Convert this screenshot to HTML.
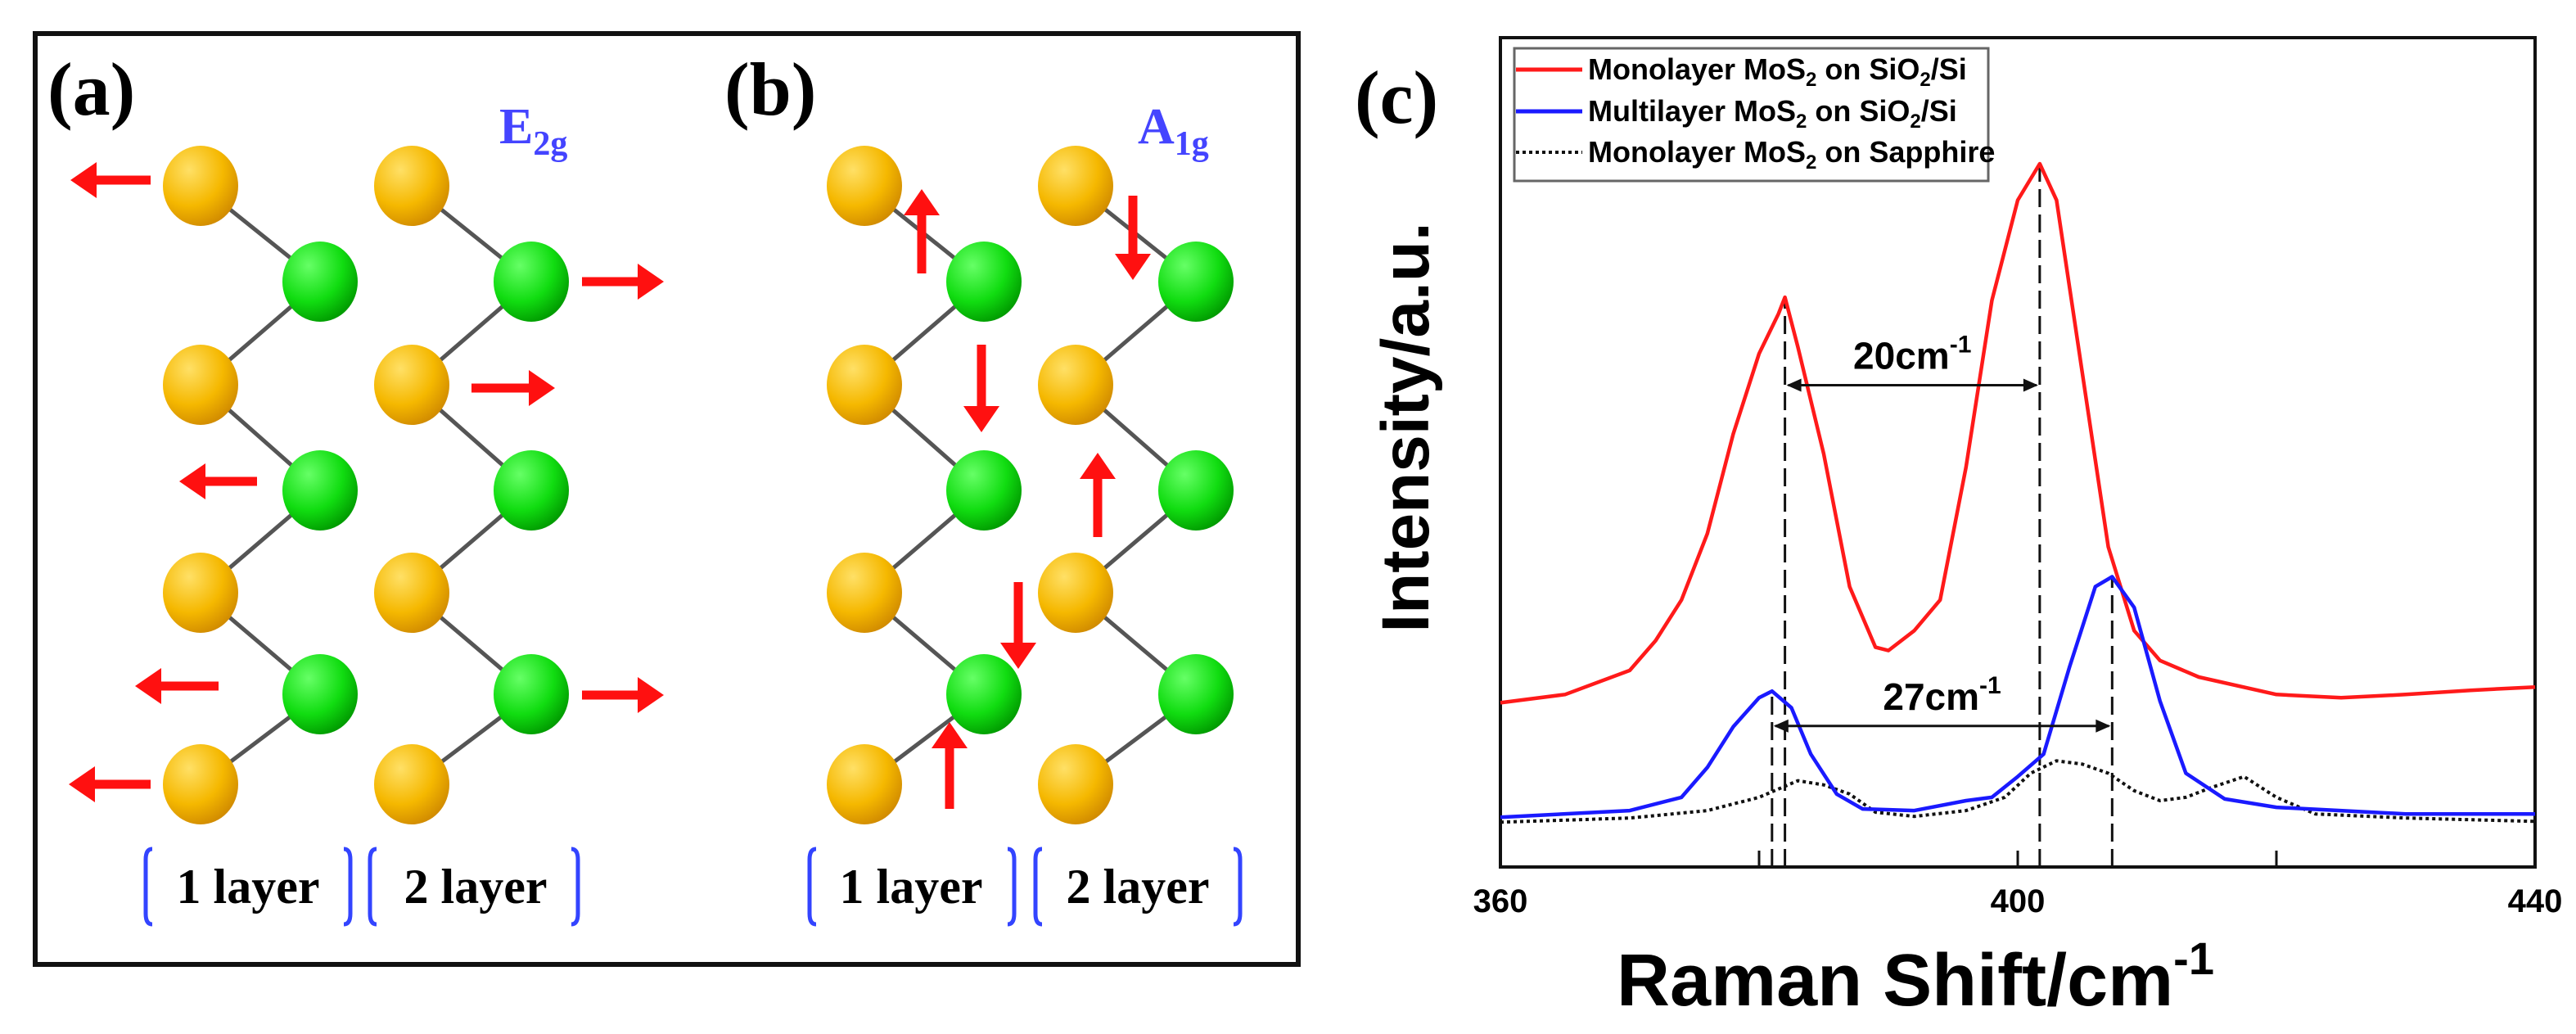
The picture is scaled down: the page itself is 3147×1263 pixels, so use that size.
<!DOCTYPE html>
<html><head><meta charset="utf-8"><style>
html,body{margin:0;padding:0;background:#fff;}
svg{display:block;}
.serif{font-family:"Liberation Serif",serif;font-weight:bold;}
.sans{font-family:"Liberation Sans",sans-serif;font-weight:bold;}
</style></head><body>
<svg id="fig" width="3147" height="1263" viewBox="0 0 3147 1263" xmlns="http://www.w3.org/2000/svg">
<defs>
<radialGradient id="gy" cx="0.35" cy="0.3" r="0.75"><stop offset="0" stop-color="#ffe066"/><stop offset="0.6" stop-color="#f5b800"/><stop offset="1" stop-color="#d08a00"/></radialGradient>
<radialGradient id="gg" cx="0.35" cy="0.3" r="0.75"><stop offset="0" stop-color="#66ff66"/><stop offset="0.6" stop-color="#11dd11"/><stop offset="1" stop-color="#009900"/></radialGradient>
</defs>
<rect x="43" y="41" width="1543" height="1137" fill="none" stroke="#111" stroke-width="6"/>
<text x="58" y="140" class="serif" font-size="92">(a)</text>
<text x="885" y="140" class="serif" font-size="92">(b)</text>
<text x="610" y="175" class="serif" font-size="62" fill="#4444ff">E<tspan font-size="42" dy="14">2g</tspan></text>
<text x="1390" y="175" class="serif" font-size="62" fill="#4444ff">A<tspan font-size="42" dy="14">1g</tspan></text>
<g id="atoms"></g>
<g id="arrows"></g>
<g id="layers"></g>

<text x="1655" y="150" class="serif" font-size="92">(c)</text>
<g id="chart"></g>
</svg>
<script>
const NS="http://www.w3.org/2000/svg";
function mk(tag,attrs,parent){const e=document.createElementNS(NS,tag);for(const k in attrs)e.setAttribute(k,attrs[k]);parent.appendChild(e);return e;}

// ---- Panels (a),(b)
const atomsG=document.getElementById('atoms');
const yRows=[227,470,724,958], gRows=[344,599,848];
const cols=[[245,391],[503,649],[1056,1202],[1314,1461]];
cols.forEach((c,ci)=>{
  const seq=[];
  for(let i=0;i<4;i++){seq.push([c[0],yRows[i],'y']);if(i<3)seq.push([c[1],gRows[i],'g']);}
  for(let i=0;i<seq.length-1;i++){
    const l=mk('line',{x1:seq[i][0],y1:seq[i][1],x2:seq[i+1][0],y2:seq[i+1][1],stroke:'#555','stroke-width':5},atomsG);
    
    
  }
  seq.forEach(s=>{
    const e=mk('ellipse',{cx:s[0],cy:s[1],rx:46,ry:49,fill:s[2]==='y'?'url(#gy)':'url(#gg)'},atomsG);
    
    
  });
});
const arrG=document.getElementById('arrows');
function arrow(x1,y1,x2,y2){
  const dx=x2-x1,dy=y2-y1,L=Math.hypot(dx,dy),ux=dx/L,uy=dy/L,px=-uy,py=ux,h=32,w=22;
  const bx=x2-ux*h,by=y2-uy*h;
  const g=mk('g',{},arrG);
  
  
  mk('line',{x1:x1,y1:y1,x2:bx,y2:by,stroke:'#ff1010','stroke-width':11},g);
  mk('polygon',{points:`${x2},${y2} ${bx+px*w},${by+py*w} ${bx-px*w},${by-py*w}`,fill:'#ff1010'},g);
}
arrow(184,220,86,220);arrow(314,588,219,588);arrow(267,838,165,838);arrow(184,958,84,958);
arrow(711,344,811,344);arrow(576,474,678,474);arrow(711,849,811,849);
arrow(1126,334,1126,231);arrow(1199,421,1199,528);arrow(1384,239,1384,342);
arrow(1341,656,1341,553);arrow(1244,711,1244,817);arrow(1160,988,1160,882);

const layG=document.getElementById('layers');
function bracket(x,dir){
  const p=mk('path',{d:`M${x+dir*8},1037 Q${x},1037 ${x},1050 L${x},1116 Q${x},1129 ${x+dir*8},1129`,fill:'none',stroke:'#3344ff','stroke-width':5},layG);
  
  
}
[[178,1],[428,-1],[452,1],[706,-1],[989,1],[1239,-1],[1265,1],[1515,-1]].forEach(b=>bracket(b[0],b[1]));
[[303,'1 layer'],[581,'2 layer'],[1113,'1 layer'],[1390,'2 layer']].forEach(t=>{
  const e=mk('text',{x:t[0],y:1103,'text-anchor':'middle','class':'serif','font-size':60},layG);
  e.textContent=t[1];
  
  
});

// ---- Chart (c)
const xTicks=[360,400,440];
const minorTicks=[380,400,420];
const redX=[360,365,370,372,374,376,378,380,381.5,382,383,385,387,389,390,392,394,396,398,400,401.7,403,405,407,409,411,414,420,425,430,435,440];
const redY=[19.8,20.8,23.7,27.3,32.2,40.2,52.2,61.9,66.7,68.7,62.7,49.8,33.8,26.5,26.1,28.5,32.2,48.2,68.3,80.4,84.8,80.4,59.5,38.6,28.5,24.9,22.9,20.8,20.4,20.8,21.3,21.7];
const blueX=[360,370,374,376,378,380,381,382.5,384,386,388,392,396,398,400,402,404,406,407.3,409,411,413,416,420,430,440];
const blueY=[6.0,6.8,8.4,12.0,16.9,20.4,21.2,19.2,13.6,8.8,7.0,6.8,8.0,8.4,10.9,13.6,24.1,33.8,35.0,31.3,20.0,11.3,8.2,7.2,6.4,6.4];
const blackX=[360,370,376,380,383,385,387,389,392,396,399,401,403,405,407,409,411,413,415,417.5,420,423,430,440];
const blackY=[5.4,5.9,6.8,8.4,10.4,9.9,8.8,6.6,6.1,6.8,8.4,11.3,12.8,12.4,11.3,9.2,8.0,8.4,9.6,10.9,8.4,6.4,5.9,5.5];
const peakLines=[[381,21.2],[382,68.7],[401.7,84.8],[407.3,35.0]];
const spans=[[382,401.7,58.1,'20'],[381,407.3,17.0,'27']];

const P={l:1833,r:3097,t:46,b:1059};
const X=v=>P.l+(v-360)/(440-360)*(P.r-P.l);
const Y=v=>P.b-v/100*(P.b-P.t);
const ch=document.getElementById('chart');
const frame=mk('rect',{x:P.l,y:P.t,width:P.r-P.l,height:P.b-P.t,fill:'none',stroke:'#111','stroke-width':4},ch);


minorTicks.forEach(v=>{
  const t=mk('line',{x1:X(v),x2:X(v),y1:P.b,y2:P.b-20,stroke:'#111','stroke-width':3},ch);
  
  
});
xTicks.forEach(v=>{
  const t=mk('text',{x:X(v),y:1114,'text-anchor':'middle','class':'sans','font-size':40},ch);
  t.textContent=v;
  
  
});
peakLines.forEach(p=>{
  const l=mk('line',{x1:X(p[0]),x2:X(p[0]),y1:P.b,y2:Y(p[1]),stroke:'#111','stroke-width':3,'stroke-dasharray':'22,9'},ch);
  
  
});
function series(xs,ys,color,w,dash,name){
  const pts=xs.map((x,i)=>X(x).toFixed(1)+','+Y(ys[i]).toFixed(1)).join(' ');
  const a={points:pts,fill:'none',stroke:color,'stroke-width':w,'stroke-linejoin':'round'};
  if(dash)a['stroke-dasharray']=dash;
  const p=mk('polyline',a,ch);
  
  
}
series(blackX,blackY,'#111',4,'4,4','series-sapphire');
series(redX,redY,'#ff1a1a',4.5,null,'series-monolayer-sio2');
series(blueX,blueY,'#1a1aff',4.5,null,'series-multilayer-sio2');
spans.forEach(s=>{
  const g=mk('g',{},ch);
  
  
  const x1=X(s[0]),x2=X(s[1]),y=Y(s[2]);
  mk('line',{x1:x1+4,x2:x2-4,y1:y,y2:y,stroke:'#111','stroke-width':3},g);
  mk('polygon',{points:`${x1+2},${y} ${x1+20},${y-8} ${x1+20},${y+8}`,fill:'#111'},g);
  mk('polygon',{points:`${x2-2},${y} ${x2-20},${y-8} ${x2-20},${y+8}`,fill:'#111'},g);
  const t=mk('text',{x:(x1+x2)/2,y:y-20,'text-anchor':'middle','class':'sans','font-size':46},g);
  t.innerHTML=s[3]+'cm<tspan font-size="30" dy="-20">-1</tspan>';
});
// legend
const lg=mk('g',{},ch);


mk('rect',{x:1850,y:59,width:579,height:162,fill:'#fff',stroke:'#666','stroke-width':3},lg);
const legLabels=[['Monolayer MoS','on SiO','/Si','#ff1a1a',null],['Multilayer MoS','on SiO','/Si','#1a1aff',null],['Monolayer MoS','on Sapphire','','#111','4,4']];
legLabels.forEach((L,i)=>{
  const y=[97,148,198][i];
  const a={x1:1852,x2:1933,y1:y-12,y2:y-12,stroke:L[3],'stroke-width':L[4]?4:5};
  if(L[4])a['stroke-dasharray']=L[4];
  const ln=mk('line',a,lg);
  
  
  const t=mk('text',{x:1940,y:y,'class':'sans','font-size':36},lg);
  t.innerHTML=L[0]+'<tspan font-size="24" dy="8">2</tspan><tspan dy="-8"> '+L[1]+'</tspan>'+(L[2]?'<tspan font-size="24" dy="8">2</tspan><tspan dy="-8">'+L[2]+'</tspan>':'');
  
  
});
const xt=mk('text',{x:2340,y:1228,'text-anchor':'middle','class':'sans','font-size':90},ch);
xt.innerHTML='Raman Shift/cm<tspan font-size="56" dy="-38">-1</tspan>';


const yt=mk('text',{x:0,y:0,'text-anchor':'middle','class':'sans','font-size':82,transform:'translate(1745,522) rotate(-90)'},ch);
yt.textContent='Intensity/a.u.';


</script>
</body></html>
